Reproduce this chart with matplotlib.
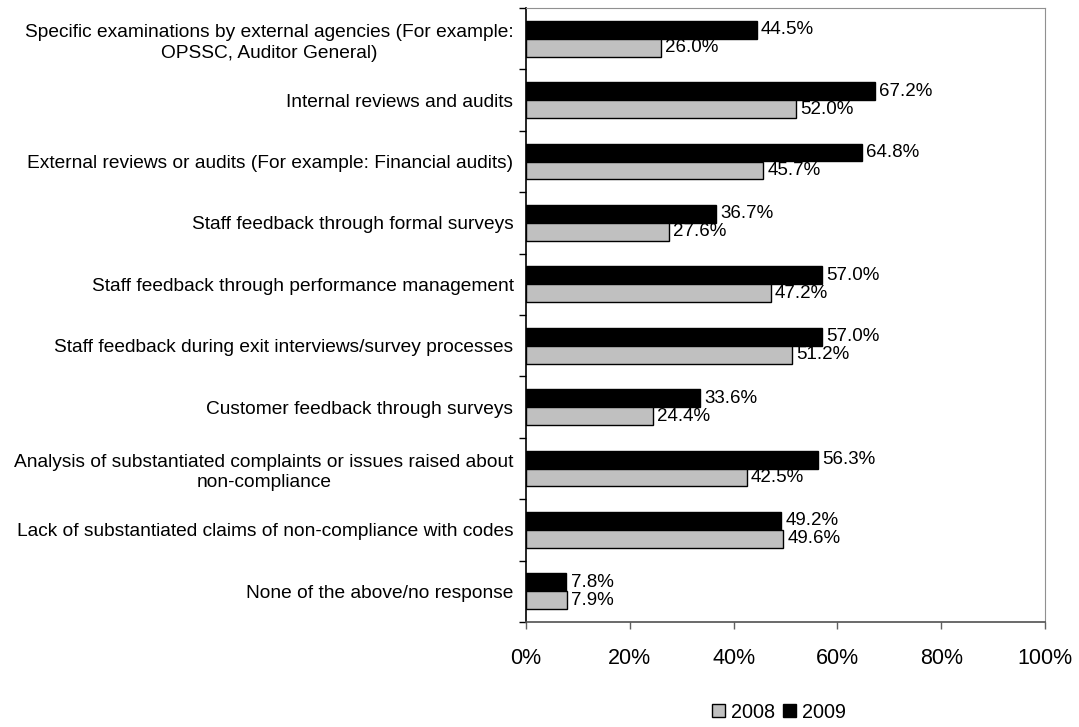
import matplotlib
matplotlib.use("Agg")
import matplotlib.pyplot as plt
from matplotlib.patches import Patch
import numpy as np

plt.rcParams['font.family'] = ['Liberation Sans', 'DejaVu Sans']

categories = [
    "Specific examinations by external agencies (For example:\nOPSSC, Auditor General)",
    "Internal reviews and audits",
    "External reviews or audits (For example: Financial audits)",
    "Staff feedback through formal surveys",
    "Staff feedback through performance management",
    "Staff feedback during exit interviews/survey processes",
    "Customer feedback through surveys",
    "Analysis of substantiated complaints or issues raised about\nnon-compliance",
    "Lack of substantiated claims of non-compliance with codes",
    "None of the above/no response",
]
values_2009 = [44.5, 67.2, 64.8, 36.7, 57.0, 57.0, 33.6, 56.3, 49.2, 7.8]
values_2008 = [26.0, 52.0, 45.7, 27.6, 47.2, 51.2, 24.4, 42.5, 49.6, 7.9]
x_ticks = [0, 20, 40, 60, 80, 100]

fig = plt.figure(figsize=(10.79, 7.27), dpi=100)
ax = fig.add_axes([526 / 1079, 1 - 622 / 727, (1045 - 526) / 1079, (622 - 8) / 727])

n = len(categories)
centers = np.arange(n) + 0.5
h = 0.29

ax.barh(centers - h / 2, values_2009, height=h, color='black',
        edgecolor='black', linewidth=1, label='2009')
ax.barh(centers + h / 2, values_2008, height=h, color='#C0C0C0',
        edgecolor='black', linewidth=1, label='2008')

for c, v in zip(centers, values_2009):
    ax.text(v + 0.8, c - h / 2, f"{v:.1f}%", va='center', ha='left', fontsize=13.5)
for c, v in zip(centers, values_2008):
    ax.text(v + 0.8, c + h / 2, f"{v:.1f}%", va='center', ha='left', fontsize=13.5)

ax.set_xlim(0, 100)
ax.set_ylim(n, 0)

# category boundaries as major ticks, labels on minor ticks at centres
ax.set_yticks(np.arange(n + 1))
ax.set_yticklabels([])
ax.set_yticks(centers, minor=True)
ax.set_yticklabels(categories, minor=True, fontsize=13.75,
                   multialignment='center', linespacing=1.3)
ax.tick_params(axis='y', which='major', length=5, width=1, color='black', direction='out')
ax.tick_params(axis='y', which='minor', length=0, pad=9)

ax.set_xticks(x_ticks)
ax.set_xticklabels([f"{t}%" for t in x_ticks], fontsize=15.5)
ax.tick_params(axis='x', length=5, width=1, color='#606060', pad=14)

ax.spines['left'].set_color('black')
ax.spines['left'].set_linewidth(1.2)
ax.spines['bottom'].set_color('#505050')
ax.spines['bottom'].set_linewidth(1.2)
ax.spines['top'].set_color('#909090')
ax.spines['right'].set_color('#909090')

handles = [Patch(facecolor='#C0C0C0', edgecolor='black', linewidth=1),
           Patch(facecolor='black', edgecolor='black', linewidth=1)]
fig.legend(handles, ['2008', '2009'], loc='center',
           bbox_to_anchor=(779 / 1079, 1 - 712 / 727), ncol=2, frameon=False,
           fontsize=14.3, handlelength=0.67, handleheight=0.67,
           handletextpad=0.3, columnspacing=0.4)

fig.savefig('out.png', dpi=100)
